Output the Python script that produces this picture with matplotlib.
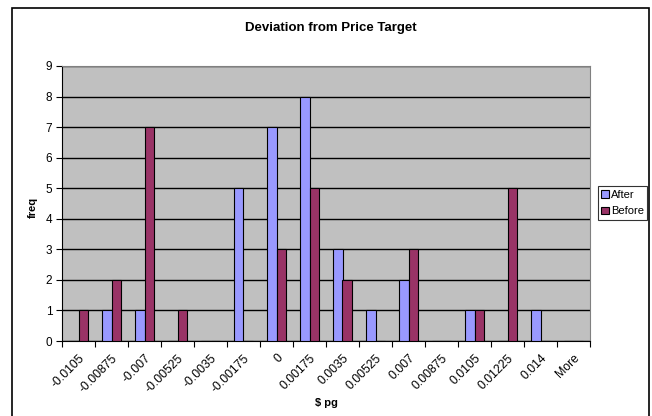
import numpy as np
import matplotlib
matplotlib.use("Agg")
import matplotlib.pyplot as plt
from matplotlib.patches import Rectangle

plt.rcParams['font.family'] = ['Liberation Sans', 'DejaVu Sans']

categories = ["-0.0105", "-0.00875", "-0.007", "-0.00525", "-0.0035", "-0.00175",
              "0", "0.00175", "0.0035", "0.00525", "0.007", "0.00875",
              "0.0105", "0.01225", "0.014", "More"]
after = [0, 1, 1, 0, 0, 5, 7, 8, 3, 1, 2, 0, 1, 0, 1, 0]
before = [1, 2, 7, 1, 0, 0, 3, 5, 2, 0, 3, 0, 1, 5, 0, 0]

W, H = 652, 416
fig = plt.figure(figsize=(W / 100, H / 100), dpi=100)

# outer chart frame
fig.patches.append(Rectangle((12 / W, -0.05), (649 - 12) / W, (H - 8) / H + 0.05,
                             transform=fig.transFigure, fill=False,
                             edgecolor='black', linewidth=1.2))

ax = fig.add_axes([62 / W, (H - 341) / H, 528 / W, 275 / H])
ax.set_facecolor('#C0C0C0')

x = np.arange(len(categories))
bw = 1 / 3.5
ax.bar(x - bw / 2, after, width=bw, color='#9999FF', edgecolor='black',
       linewidth=0.8, label='After', zorder=3)
ax.bar(x + bw / 2, before, width=bw, color='#993366', edgecolor='black',
       linewidth=0.8, label='Before', zorder=3)

ax.set_xlim(-0.5, len(categories) - 0.5)
ax.set_ylim(0, 9)
ax.set_yticks(range(10))
ax.yaxis.grid(True, color='black', linewidth=1.0, zorder=1)
ax.set_axisbelow(True)

ax.set_xticks(np.arange(len(categories) + 1) - 0.5)
ax.set_xticklabels([])
ax.set_xticks(x, minor=True)
ax.set_xticklabels(categories, minor=True, rotation=45, ha='right',
                   rotation_mode='anchor', fontsize=8.8)
ax.tick_params(axis='x', which='minor', length=0, pad=8)
ax.tick_params(axis='x', which='major', length=4, direction='out', color='black')
ax.tick_params(axis='y', length=4, direction='out', labelsize=8.5, pad=3)

for side in ['top', 'right']:
    ax.spines[side].set_color('#808080')
for side in ['left', 'bottom']:
    ax.spines[side].set_color('black')

fig.text(331 / W, (H - 28) / H, 'Deviation from Price Target', fontsize=9.5,
         fontweight='bold', ha='center', va='center')
ax.set_ylabel('freq', fontsize=8, fontweight='bold')
ax.yaxis.set_label_coords((33 - 62) / 528, (341 - 207) / 275)
ax.set_xlabel('$ pg', fontsize=8, fontweight='bold')
ax.xaxis.set_label_coords((326.5 - 62) / 528, -(403 - 341) / 275)
ax.xaxis.label.set_va('center')
ax.yaxis.label.set_va('center')

leg = ax.legend(loc='center left', bbox_to_anchor=(598 / W, (H - 203) / H),
                bbox_transform=fig.transFigure, fontsize=8, frameon=True,
                fancybox=False, edgecolor='black', handlelength=0.7,
                handleheight=0.7, handletextpad=0.15, borderpad=0.3,
                labelspacing=0.6, borderaxespad=0)
leg.get_frame().set_linewidth(0.8)

fig.savefig('out.png', dpi=100)
